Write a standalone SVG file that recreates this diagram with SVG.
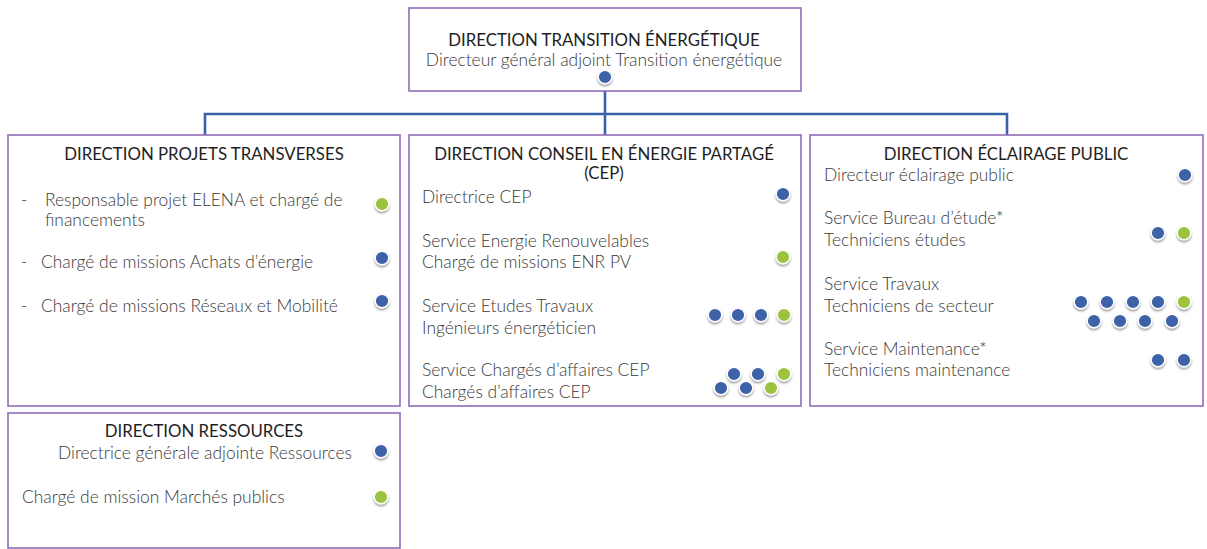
<svg xmlns="http://www.w3.org/2000/svg" width="1207" height="549" viewBox="0 0 1207 549">
<defs>
<filter id="sh" x="-50%" y="-50%" width="200%" height="220%">
<feDropShadow dx="0" dy="1.6" stdDeviation="1" flood-color="#000" flood-opacity="0.45"/>
</filter>
</defs>
<style>
.box{fill:#fff;stroke:#8f6cb8;stroke-width:1.6}
.conn{fill:none;stroke:#3a62ab;stroke-width:2.6}
.t{font-family:"Lato","Liberation Sans",sans-serif;font-size:16.8px;fill:#1e1e1e}
.b{font-family:"Lato","Liberation Sans",sans-serif;font-weight:300;font-size:17.4px;fill:#3a3a3a}
.bl{fill:#3d62a8;stroke:#fff;stroke-width:1.4;filter:url(#sh)}
.gr{fill:#9bc33c;stroke:#fff;stroke-width:1.4;filter:url(#sh)}
</style>
<rect width="1207" height="549" fill="#fff"/>
<g id="connectors">
<path class="conn" d="M605 91 V136 M205 136 V114 H1007 V136"/>
</g>
<g id="top">
<rect class="box" x="409" y="8" width="392" height="83"/>
<text class="t" x="604" y="46" text-anchor="middle">DIRECTION TRANSITION ÉNERGÉTIQUE</text>
<text class="b" x="604" y="66" text-anchor="middle">Directeur général adjoint Transition énergétique</text>
<circle class="bl" cx="605" cy="77" r="6.8"/>
</g>
<g id="projets">
<rect class="box" x="8" y="135" width="392" height="271"/>
<text class="t" x="204" y="160" text-anchor="middle">DIRECTION PROJETS TRANSVERSES</text>
<text class="b" x="21" y="206">-</text>
<text class="b" x="45" y="206">Responsable projet ELENA et chargé de</text>
<text class="b" x="45" y="226">financements</text>
<text class="b" x="21" y="268">-</text>
<text class="b" x="41" y="268">Chargé de missions Achats d’énergie</text>
<text class="b" x="21" y="312">-</text>
<text class="b" x="41" y="312">Chargé de missions Réseaux et Mobilité</text>
<circle class="gr" cx="382" cy="204" r="6.8"/>
<circle class="bl" cx="382" cy="258" r="6.8"/>
<circle class="bl" cx="382" cy="301" r="6.8"/>
</g>
<g id="cep">
<rect class="box" x="409" y="135" width="392" height="271"/>
<text class="t" x="604" y="160" text-anchor="middle">DIRECTION CONSEIL EN ÉNERGIE PARTAGÉ</text>
<text class="t" x="604" y="179" text-anchor="middle">(CEP)</text>
<text class="b" x="422" y="203">Directrice CEP</text>
<text class="b" x="422" y="247">Service Energie Renouvelables</text>
<text class="b" x="422" y="268">Chargé de missions ENR PV</text>
<text class="b" x="422" y="312">Service Etudes Travaux</text>
<text class="b" x="422" y="334">Ingénieurs énergéticien</text>
<text class="b" x="422" y="376">Service Chargés d’affaires CEP</text>
<text class="b" x="422" y="398">Chargés d’affaires CEP</text>
<circle class="bl" cx="783" cy="194" r="6.8"/>
<circle class="gr" cx="783" cy="257" r="6.8"/>
<circle class="bl" cx="715" cy="315" r="6.8"/>
<circle class="bl" cx="738" cy="315" r="6.8"/>
<circle class="bl" cx="761" cy="315" r="6.8"/>
<circle class="gr" cx="784" cy="315" r="6.8"/>
<circle class="bl" cx="734" cy="374" r="6.8"/>
<circle class="bl" cx="758" cy="374" r="6.8"/>
<circle class="gr" cx="784" cy="374" r="6.8"/>
<circle class="bl" cx="721" cy="388" r="6.8"/>
<circle class="bl" cx="746" cy="388" r="6.8"/>
<circle class="gr" cx="771" cy="388" r="6.8"/>
</g>
<g id="eclairage">
<rect class="box" x="810" y="135" width="393" height="271"/>
<text class="t" x="1006" y="160" text-anchor="middle">DIRECTION ÉCLAIRAGE PUBLIC</text>
<text class="b" x="824" y="181">Directeur éclairage public</text>
<text class="b" x="824" y="224">Service Bureau d’étude*</text>
<text class="b" x="824" y="246">Techniciens études</text>
<text class="b" x="824" y="290">Service Travaux</text>
<text class="b" x="824" y="312">Techniciens de secteur</text>
<text class="b" x="824" y="355">Service Maintenance*</text>
<text class="b" x="824" y="376">Techniciens maintenance</text>
<circle class="bl" cx="1185" cy="175" r="6.8"/>
<circle class="bl" cx="1158" cy="233" r="6.8"/>
<circle class="gr" cx="1184" cy="233" r="6.8"/>
<circle class="bl" cx="1081" cy="302" r="6.8"/>
<circle class="bl" cx="1107" cy="302" r="6.8"/>
<circle class="bl" cx="1133" cy="302" r="6.8"/>
<circle class="bl" cx="1158" cy="302" r="6.8"/>
<circle class="gr" cx="1184" cy="302" r="6.8"/>
<circle class="bl" cx="1094" cy="321" r="6.8"/>
<circle class="bl" cx="1120" cy="321" r="6.8"/>
<circle class="bl" cx="1145" cy="321" r="6.8"/>
<circle class="bl" cx="1172" cy="321" r="6.8"/>
<circle class="bl" cx="1158" cy="360" r="6.8"/>
<circle class="bl" cx="1184" cy="360" r="6.8"/>
</g>
<g id="ressources">
<rect class="box" x="8" y="413" width="392" height="135"/>
<text class="t" x="204" y="437" text-anchor="middle">DIRECTION RESSOURCES</text>
<text class="b" x="58" y="459">Directrice générale adjointe Ressources</text>
<text class="b" x="22" y="503">Chargé de mission Marchés publics</text>
<circle class="bl" cx="381" cy="451" r="6.8"/>
<circle class="gr" cx="381" cy="497" r="6.8"/>
</g>
</svg>
